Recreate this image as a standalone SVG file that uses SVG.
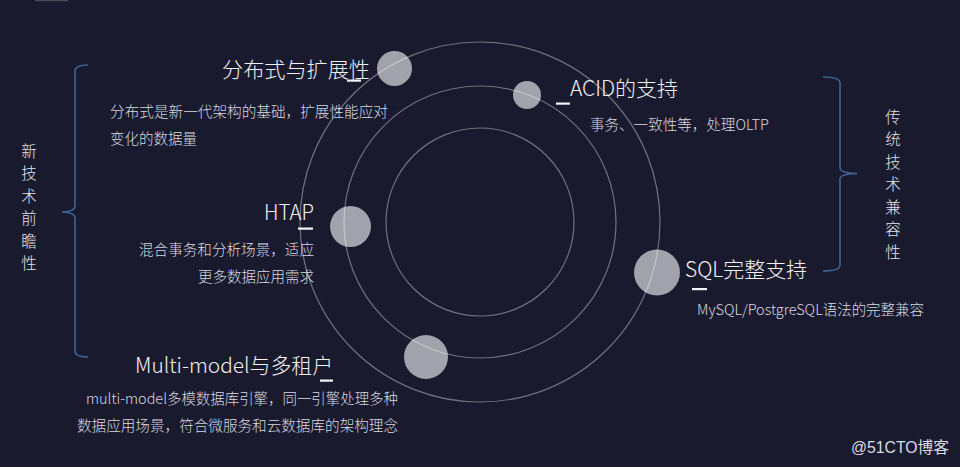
<svg xmlns="http://www.w3.org/2000/svg" width="960" height="467" viewBox="0 0 960 467">
<defs>
<style>
text{font-family:"Noto Sans CJK SC","Noto Sans",sans-serif;}
.title{font-size:21px;fill:#f2f2f6;font-weight:300;}
.desc{font-size:14.5px;fill:#d9d9e0;font-weight:300;}
.vert{font-size:15.5px;fill:#e4e4ea;text-anchor:middle;font-weight:300;}
.bar{fill:#f4f4f8;}
.dot{fill:#a2a2ac;}
.ring{fill:none;stroke:#ffffff;stroke-opacity:0.38;stroke-width:1.2;}
.brace{fill:none;stroke:#3f6295;stroke-width:1.6;}
</style>
</defs>
<rect width="960" height="467" fill="#1a1a2e"/>
<rect x="35" y="0" width="33" height="1.2" fill="#4a4a5a"/>

<g id="node-distributed">
<circle class="dot" cx="394.5" cy="68.5" r="17.5"/>
<text class="title" x="222" y="77" textLength="148" lengthAdjust="spacingAndGlyphs">分布式与扩展性</text>
<rect class="bar" x="347" y="79.5" width="14" height="2.2"/>
<text class="desc" x="110" y="117" textLength="278" lengthAdjust="spacingAndGlyphs">分布式是新一代架构的基础，扩展性能应对</text>
<text class="desc" x="110" y="144">变化的数据量</text>
</g>

<g id="node-acid">
<circle class="dot" cx="527" cy="95" r="14"/>
<text class="title" x="570" y="96" textLength="108" lengthAdjust="spacingAndGlyphs">ACID的支持</text>
<rect class="bar" x="556" y="102.5" width="14" height="2.2"/>
<text class="desc" x="590" y="130" textLength="179" lengthAdjust="spacingAndGlyphs">事务、一致性等，处理OLTP</text>
</g>

<g id="node-htap">
<circle class="dot" cx="350.5" cy="226.5" r="20.5"/>
<text class="title" x="264" y="220" textLength="50" lengthAdjust="spacingAndGlyphs">HTAP</text>
<rect class="bar" x="298" y="227.5" width="15" height="2.2"/>
<text class="desc" x="139" y="255" textLength="175" lengthAdjust="spacingAndGlyphs">混合事务和分析场景，适应</text>
<text class="desc" x="198" y="282" textLength="116" lengthAdjust="spacingAndGlyphs">更多数据应用需求</text>
</g>

<g id="node-sql">
<circle class="dot" cx="657" cy="272.5" r="23"/>
<text class="title" x="685" y="277" textLength="122" lengthAdjust="spacingAndGlyphs">SQL完整支持</text>
<rect class="bar" x="692" y="288" width="15" height="2.2"/>
<text class="desc" x="697" y="315" textLength="227" lengthAdjust="spacingAndGlyphs">MySQL/PostgreSQL语法的完整兼容</text>
</g>

<g id="node-multimodel">
<circle class="dot" cx="426" cy="357" r="22"/>
<text class="title" x="135" y="373" textLength="198" lengthAdjust="spacingAndGlyphs">Multi-model与多租户</text>
<rect class="bar" x="320" y="379.5" width="13" height="2.2"/>
<text class="desc" x="86" y="404" textLength="312" lengthAdjust="spacingAndGlyphs">multi-model多模数据库引擎，同一引擎处理多种</text>
<text class="desc" x="77" y="431" textLength="321" lengthAdjust="spacingAndGlyphs">数据应用场景，符合微服务和云数据库的架构理念</text>
</g>

<g id="connectors">
<circle class="ring" cx="480" cy="222" r="94"/>
<circle class="ring" cx="480" cy="222" r="136"/>
<circle class="ring" cx="480" cy="222" r="180"/>
<path class="brace" d="M88,65 Q75,65 75,71 L75,206 Q75,211.5 62,212 Q75,212.5 75,218 L75,351 Q75,357 88,357"/>
<path class="brace" d="M823,77 Q840,77 840,83 L840,168 Q840,173 857,173.5 Q840,174 840,179 L840,265 Q840,271 823,271"/>
</g>

<g id="label-new-tech">
<text class="vert" x="29" y="156.5">新</text>
<text class="vert" x="29" y="179">技</text>
<text class="vert" x="29" y="201.5">术</text>
<text class="vert" x="29" y="224">前</text>
<text class="vert" x="29" y="246.5">瞻</text>
<text class="vert" x="29" y="269">性</text>
</g>

<g id="label-traditional">
<text class="vert" x="893" y="122.5">传</text>
<text class="vert" x="893" y="145">统</text>
<text class="vert" x="893" y="167.5">技</text>
<text class="vert" x="893" y="190">术</text>
<text class="vert" x="893" y="212.5">兼</text>
<text class="vert" x="893" y="235">容</text>
<text class="vert" x="893" y="257.5">性</text>
</g>

<text x="851" y="453" textLength="98" lengthAdjust="spacingAndGlyphs" style="font-size:16px;fill:#dcdce0;font-family:'Liberation Sans','Noto Sans CJK SC',sans-serif;">@51CTO博客</text>
</svg>
